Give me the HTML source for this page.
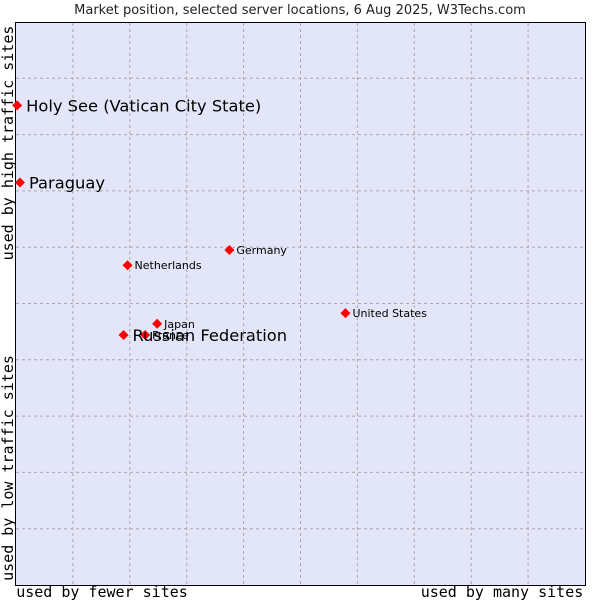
<!DOCTYPE html>
<html><head><meta charset="utf-8"><style>
body{margin:0;background:#fff;width:600px;height:600px;overflow:hidden}
svg{display:block;font-family:"DejaVu Sans","Liberation Sans",sans-serif}
</style></head><body>
<svg id="chart" width="600" height="600">
<text x="300" y="14" text-anchor="middle" font-size="13" fill="#222">Market position, selected server locations, 6 Aug 2025, W3Techs.com</text>
<rect x="15.5" y="22.5" width="570" height="563" fill="#e3e5f8" stroke="#000"/>
<g id="grid"></g>
<g id="points"></g>
<text x="102" y="597" text-anchor="middle" font-family="DejaVu Sans Mono,monospace" font-size="15" fill="#000">used by fewer sites</text>
<text x="502" y="597" text-anchor="middle" font-family="DejaVu Sans Mono,monospace" font-size="15" fill="#000">used by many sites</text>
<text transform="translate(13,143) rotate(-90)" text-anchor="middle" font-family="DejaVu Sans Mono,monospace" font-size="15" fill="#000">used by high traffic sites</text>
<text transform="translate(13,468) rotate(-90)" text-anchor="middle" font-family="DejaVu Sans Mono,monospace" font-size="15" fill="#000">used by low traffic sites</text>
</svg>
<script>
const names = ["Holy See (Vatican City State)","Paraguay","Germany","Netherlands","United States","Japan","France","Russian Federation"];
const xVals = [0.2,0.7,37.5,19.6,57.9,24.8,22.7,18.9];
const yVals = [85.2,71.5,59.5,56.8,48.3,46.4,44.4,44.4];
const big = [true,true,false,false,false,false,false,true];
const L=16,R=585,T=22,B=585;
const sx=v=>L+v/100*(R-L), sy=v=>B-v/100*(B-T);
const ns="http://www.w3.org/2000/svg";
const grid=document.getElementById('grid'), pts=document.getElementById('points');
for(let i=1;i<10;i++){
  const x=L+i*(R-L)/10, y=B-i*(B-T)/10;
  const v=document.createElementNS(ns,'line');
  v.setAttribute('x1',x);v.setAttribute('x2',x);v.setAttribute('y1',T+1);v.setAttribute('y2',B);
  v.setAttribute('stroke','#aaa');v.setAttribute('stroke-dasharray','3,3');
  
  
  grid.appendChild(v);
  const h=document.createElementNS(ns,'line');
  h.setAttribute('x1',L);h.setAttribute('x2',R);h.setAttribute('y1',y);h.setAttribute('y2',y);
  h.setAttribute('stroke','#aaa');h.setAttribute('stroke-dasharray','3,3');
  
  
  grid.appendChild(h);
}
names.forEach((n,i)=>{
  const x=sx(xVals[i]), y=sy(yVals[i]);
  const c=document.createElementNS(ns,'path');
  c.setAttribute('d',`M${x-5},${y}L${x},${y-5}L${x+5},${y}L${x},${y+5}Z`);
  c.setAttribute('fill','#f00');
  
  
  pts.appendChild(c);
  const t=document.createElementNS(ns,'text');
  t.setAttribute('x',x+(big[i]?9:7));t.setAttribute('y',y+(big[i]?6:4));
  t.setAttribute('font-size',big[i]?16.3:11);t.setAttribute('fill','#000');
  t.textContent=n;
  
  
  pts.appendChild(t);
});
</script>
</body></html>
